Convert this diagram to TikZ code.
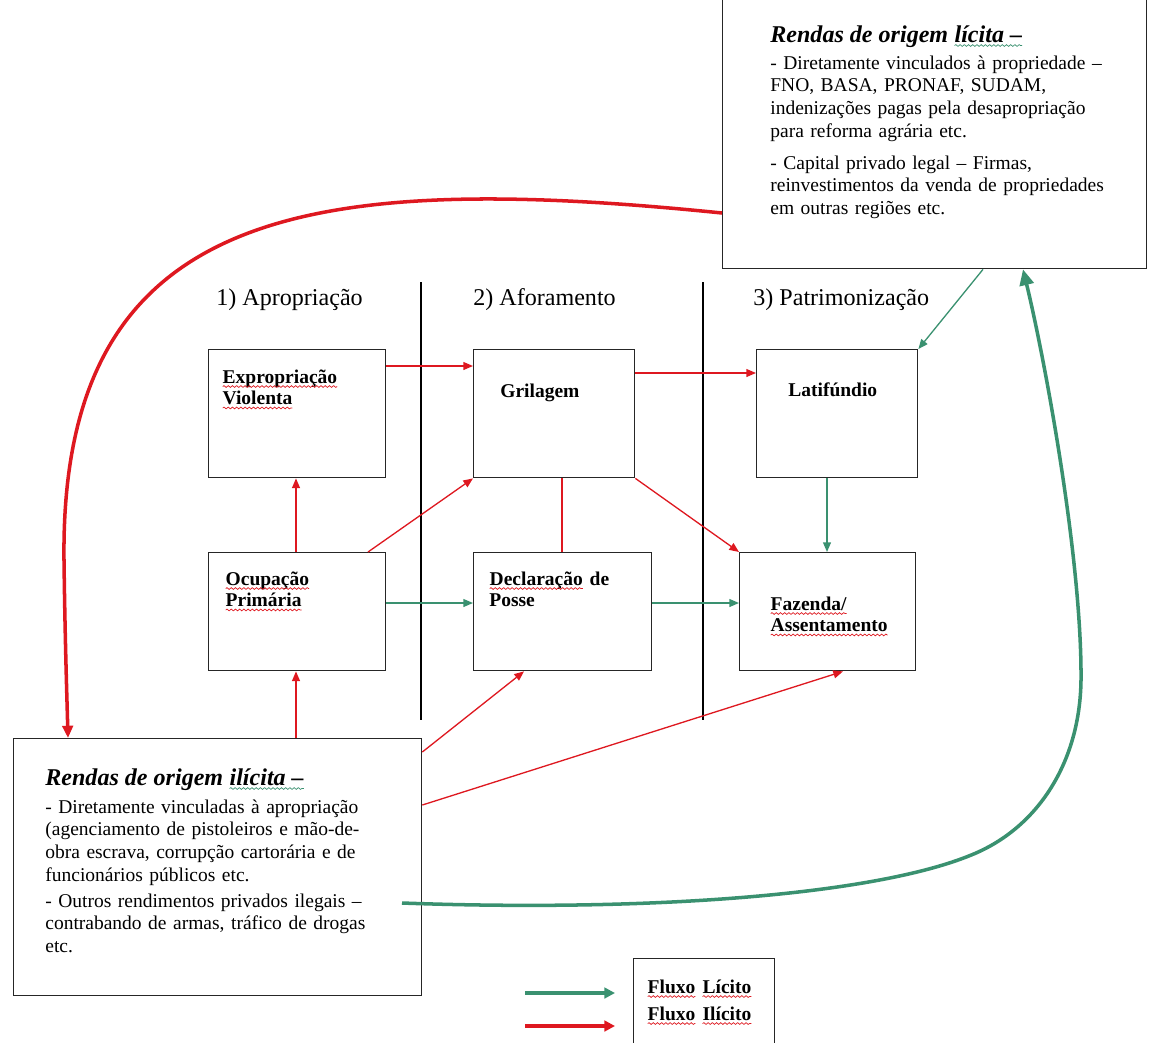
\documentclass[tikz,border=0pt]{standalone}
\usepackage{fontspec}
\setmainfont{Liberation Serif}
\usepackage{tikz}
\usetikzlibrary{arrows.meta}
\usetikzlibrary{positioning}
\usetikzlibrary{decorations.pathmorphing}

\definecolor{fluxred}{RGB}{222,24,32}
\definecolor{fluxgreen}{RGB}{58,145,112}

% sublinhado ondulado
\newcommand\onda[2]{\tikz[baseline=(onda.base)]{%
    \node[inner sep=0pt, outer sep=0pt, anchor=base, text width=, minimum size=0pt] (onda) {#2};
    \draw[#1, line width=0.4pt, decorate, decoration={snake, amplitude=0.5pt, segment length=2.4pt}]
        ([yshift=-2pt]onda.base west) -- ([yshift=-2pt]onda.base east);}}

\begin{document}
\begin{tikzpicture}[x=0.02cm, y=-0.02cm]
    \tikzset{>={Triangle[length=5.5pt,width=4.5pt]},
             box/.style={draw=black!85, line width=0.8pt, anchor=north west, inner sep=0pt},
             lbl/.style={anchor=base west, inner sep=0pt, text width=6cm, align=left,
                         font=\fontsize{11.1}{12.2}\selectfont\bfseries},
             body/.style={anchor=base west, inner sep=0pt, text width=9cm, align=left,
                          font=\fontsize{11.1}{13}\selectfont},
             heading/.style={anchor=base west, inner sep=0pt, font=\fontsize{13.7}{16}\selectfont},
             rtitle/.style={anchor=base west, inner sep=0pt,
                            font=\fontsize{13.7}{16}\selectfont\bfseries\itshape},
             ilicit/.style={->, draw=fluxred, line width=0.75pt},
             licit/.style={->, draw=fluxgreen, line width=0.75pt}}
    \useasboundingbox (0,0) rectangle (1149,1042);

    % colunas
    \draw[line width=0.6pt] (421,282) -- (421,720);
    \draw[line width=0.6pt] (703,282) -- (703,720);
    \node[heading] (h1) at (216,305) {1) Apropriação};
    \node[heading] (h2) at (473,305) {2) Aforamento};
    \node[heading] (h3) at (753,305) {3) Patrimonização};

    % caixas
    \node[box, minimum width=3.54cm, minimum height=2.56cm] (expr) at (208,349) {};
    \node[box, minimum width=3.22cm, minimum height=2.56cm] (gril) at (473,349) {};
    \node[box, minimum width=3.22cm, minimum height=2.56cm] (lat) at (756,349) {};
    \node[box, minimum width=3.54cm, minimum height=2.36cm] (ocup) at (208,552) {};
    \node[box, minimum width=3.56cm, minimum height=2.36cm] (decl) at (473,552) {};
    \node[box, minimum width=3.52cm, minimum height=2.36cm] (faz) at (739,552) {};
    \node[box, minimum width=8.16cm, minimum height=5.14cm] (ilicita) at (13,738) {};
    \node[box, minimum width=8.48cm, minimum height=5.60cm] (licita) at (722,-12) {};
    \node[box, minimum width=2.82cm, minimum height=2.00cm] (legenda) at (633,958) {};

    \node[lbl] (exprtxt) at (222,383) {\onda{fluxred}{Expropriação}\\\onda{fluxred}{Violenta}};
    \node[lbl] (griltxt) at (500,397) {Grilagem};
    \node[lbl] (lattxt) at (788,396) {Latifúndio};
    \node[lbl] (ocuptxt) at (225,585) {\onda{fluxred}{Ocupação}\\\onda{fluxred}{Primária}};
    \node[lbl] (decltxt) at (489,585) {\onda{fluxred}{Declaração} de\\Posse};
    \node[lbl] (faztxt) at (770,610) {\onda{fluxred}{Fazenda/}\\\onda{fluxred}{Assentamento}};

    % rendas
    \node[rtitle] (licitatit) at (770,42) {Rendas de origem \onda{fluxgreen}{lícita –}};
    \node[body] (licitap1) at (770,69) {- Diretamente vinculados à propriedade –\\
        FNO, BASA, PRONAF, SUDAM,\\indenizações pagas pela desapropriação\\para reforma agrária etc.};
    \node[body] (licitap2) at (770,169) {- Capital privado legal – Firmas,\\
        reinvestimentos da venda de propriedades\\em outras regiões etc.};
    \node[rtitle] (ilicitatit) at (45,785) {Rendas de origem \onda{fluxgreen}{ilícita –}};
    \node[body] (ilicitap1) at (45,813) {- Diretamente vinculadas à apropriação\\
        (agenciamento de pistoleiros e mão-de-\\obra escrava, corrupção cartorária e de\\
        funcionários públicos etc.};
    \node[body] (ilicitap2) at (45,907) {- Outros rendimentos privados ilegais –\\
        contrabando de armas, tráfico de drogas\\etc.};

    % legenda
    \node[lbl] (leg1) at (647,993) {\onda{fluxred}{Fluxo} \onda{fluxred}{Lícito}};
    \node[lbl] (leg2) at (647,1020) {\onda{fluxred}{Fluxo} \onda{fluxred}{Ilícito}};
    \coordinate (lg1a) at (525,993);
    \coordinate (lg1b) at (615,993);
    \coordinate (lg2a) at (525,1026);
    \coordinate (lg2b) at (615,1026);
    \draw[licit, line width=2.6pt, -{Triangle[length=6pt,width=6pt]}] (lg1a) -- (lg1b);
    \draw[ilicit, line width=2.6pt, -{Triangle[length=6pt,width=6pt]}] (lg2a) -- (lg2b);

    % fluxos
    \draw[ilicit] (expr.east |- 0,366) -- (gril.west |- 0,366);
    \draw[ilicit] (gril.east |- 0,373) -- (lat.west |- 0,373);
    \draw[ilicit] (ocup.north -| 296,0) -- (expr.south -| 296,0);
    \draw[ilicit] (ocup.north -| 368,0) -- (gril.south west);
    \draw[fluxred, line width=0.75pt] (gril.south -| 562,0) -- (decl.north -| 562,0);
    \draw[ilicit] (gril.south east) -- (faz.north west);
    \draw[licit] (lat.south -| 827,0) -- (faz.north -| 827,0);
    \draw[licit] (ocup.east |- 0,603) -- (decl.west |- 0,603);
    \draw[licit] (decl.east |- 0,603) -- (faz.west |- 0,603);
    \draw[ilicit] (ilicita.north -| 296,0) -- (ocup.south -| 296,0);
    \draw[ilicit] (ilicita.east |- 0,752) -- (decl.south -| 524,0);
    \draw[ilicit] (ilicita.east |- 0,805) -- (faz.south -| 843,0);
    \draw[licit] (licita.south -| 983,0) -- (lat.north east);

    \draw[ilicit, line width=2pt, -{Triangle[length=7pt,width=6pt]}] (licita.west |- 0,213)
        .. controls (300,170) and (60,210) .. (64,560)
        .. controls (65,640) and (67,700) .. (ilicita.north -| 68,0);
    \coordinate (gstart) at (402,903);
    \draw[licit, line width=2pt, -{Triangle[length=9pt,width=8pt]}] (gstart)
        .. controls (650,912) and (880,895) .. (976,853)
        .. controls (1040,825) and (1080,760) .. (1081,680)
        .. controls (1082,560) and (1045,360) .. (licita.south -| 1023,0);
\end{tikzpicture}
\end{document}
